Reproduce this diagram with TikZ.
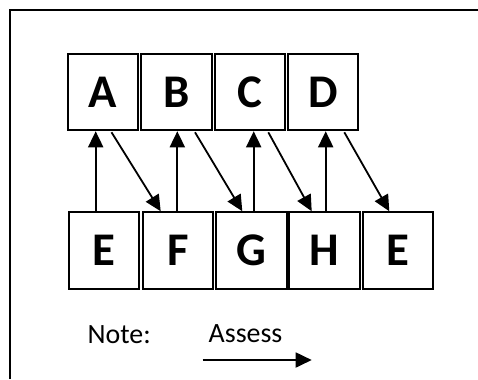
\documentclass[tikz,border=0pt]{standalone}
\usepackage{fontspec}
\setmainfont{Carlito}
\usetikzlibrary{arrows.meta}
\tikzset{
  box/.style={draw=black, line width=2bp, minimum width=70.5bp, minimum height=76.5bp, inner sep=0pt,
    font=\fontsize{47}{47}\selectfont\bfseries},
  arr/.style={line width=1.8bp, -{Triangle[length=16bp,width=15bp]}},
  lbl/.style={inner sep=0pt, font=\fontsize{28}{28}\selectfont}
}
\begin{document}
\begin{tikzpicture}[x=1bp,y=-1bp]
\useasboundingbox (0,0) rectangle (478,379);
% outer frame
\draw[line width=2.6bp] (10,379) -- (10,10) -- (478,10);
% top row
\node[box] (A) at (103,92) {A};
\node[box] (B) at (176.7,92) {B};
\node[box] (C) at (249.8,92) {C};
\node[box] (D) at (323.2,92) {D};
% bottom row
\node[box] (E) at (104.2,250.5) {E};
\node[box] (F) at (178,250.5) {F};
\node[box] (G) at (251.3,250.5) {G};
\node[box] (H) at (324.5,250.5) {H};
\node[box] (E2) at (398,250.5) {E};
% up arrows
\draw[arr] ([xshift=-8.5bp]E.north) -- ([xshift=-8.5bp]E.north |- A.south);
\draw[arr] ([xshift=-0.7bp]F.north) -- ([xshift=-0.7bp]F.north |- B.south);
\draw[arr] ([xshift=2.4bp]G.north) -- ([xshift=2.4bp]G.north |- C.south);
\draw[arr] ([xshift=1.2bp]H.north) -- ([xshift=1.2bp]H.north |- D.south);
% diagonal arrows
\draw[arr] ([xshift=8.5bp,yshift=-1bp]A.south) -- ([xshift=-17.3bp]F.north);
\draw[arr] ([xshift=18.3bp,yshift=-1bp]B.south) -- ([xshift=-9bp]G.north);
\draw[arr] ([xshift=18.5bp,yshift=-1bp]C.south) -- ([xshift=-12.8bp]H.north);
\draw[arr] ([xshift=21.1bp,yshift=-1bp]D.south) -- ([xshift=-8.7bp]E2.north);
% note
\node[lbl, anchor=base west] (note) at (87.5,343.3) {Note:};
\node[lbl, anchor=base west] (assess) at (208.5,342) {Assess};
\coordinate (ns) at (202.7,360);
\coordinate (ne) at (311.7,360);
\draw[arr] (ns) -- (ne);
\end{tikzpicture}
\end{document}
